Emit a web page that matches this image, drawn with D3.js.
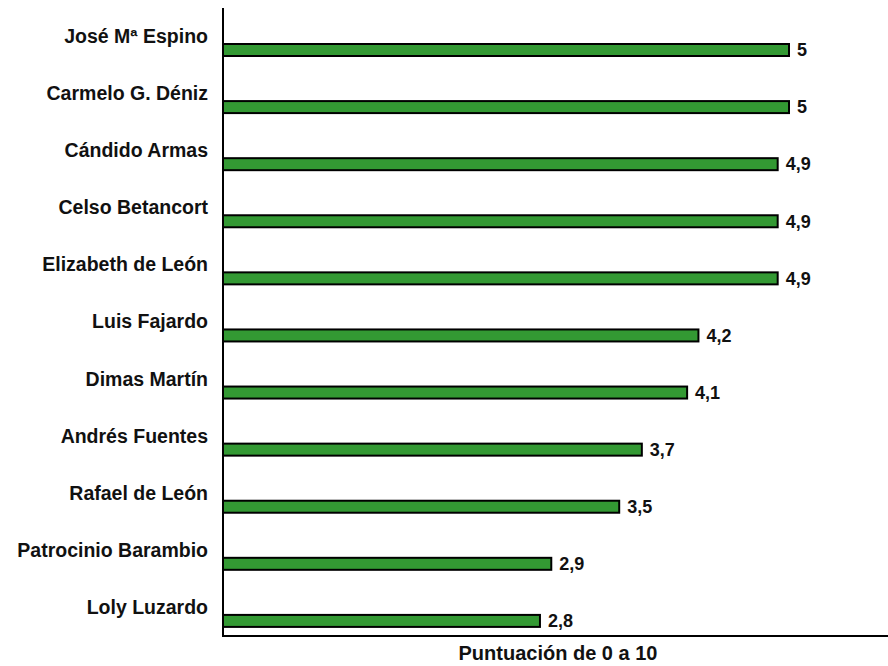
<!DOCTYPE html>
<html>
<head>
<meta charset="utf-8">
<script src="https://cdn.jsdelivr.net/npm/d3@7"></script>
<style>
  body { margin: 0; background: #fff; }
  text { font-family: "Liberation Sans", Arial, sans-serif; font-weight: bold; fill: #111; }
</style>
</head>
<body>
<div id="chart"></div>
<script>
// --- datos ---
var nombres = ["José Mª Espino", "Carmelo G. Déniz", "Cándido Armas", "Celso Betancort",
  "Elizabeth de León", "Luis Fajardo", "Dimas Martín", "Andrés Fuentes",
  "Rafael de León", "Patrocinio Barambio", "Loly Luzardo"];
var notas = [5, 5, 4.9, 4.9, 4.9, 4.2, 4.1, 3.7, 3.5, 2.9, 2.8];
var tituloEje = "Puntuación de 0 a 10";

var width = 888, height = 666;
var x0 = 223, yTop = 8, yBottom = 636;

var svg = d3.select('#chart').append('svg')
  .attr('width', width)
  .attr('height', height);

var x = d3.scaleLinear().domain([0, 5]).range([x0, 789]);
var y = d3.scaleBand().domain(nombres).range([yTop, yBottom]).padding(0);

var barOff = 36, barH = 12;

// barras
svg.selectAll('rect.bar')
  .data(nombres)
  .enter().append('rect')
  .attr('class', 'bar')
  .attr('x', x(0))
  .attr('y', function(d) { return y(d) + barOff; })
  .attr('width', function(d, i) { return x(notas[i]) - x(0); })
  .attr('height', barH)
  .attr('fill', '#339933')
  .attr('stroke', '#000')
  .attr('stroke-width', 2);

// nombres
svg.selectAll('text.nombre')
  .data(nombres)
  .enter().append('text')
  .attr('class', 'nombre')
  .attr('x', 208)
  .attr('y', function(d) { return y(d) + barOff - 1; })
  .attr('text-anchor', 'end')
  .style('font-size', '19.5px')
  .text(function(d) { return d; });

// valores
svg.selectAll('text.valor')
  .data(nombres)
  .enter().append('text')
  .attr('class', 'valor')
  .attr('x', function(d, i) { return x(notas[i]) + 8; })
  .attr('y', function(d) { return y(d) + barOff + barH / 2; })
  .attr('dy', '0.35em')
  .style('font-size', '18px')
  .text(function(d, i) { return String(notas[i]).replace('.', ','); });

// ejes
svg.append('line')
  .attr('x1', x0).attr('x2', x0)
  .attr('y1', yTop).attr('y2', yBottom)
  .attr('stroke', '#000').attr('stroke-width', 2);
svg.append('line')
  .attr('x1', x0 - 1).attr('x2', width)
  .attr('y1', yBottom).attr('y2', yBottom)
  .attr('stroke', '#000').attr('stroke-width', 2);

svg.append('text')
  .attr('x', 558)
  .attr('y', 660)
  .attr('text-anchor', 'middle')
  .style('font-size', '20px')
  .text(tituloEje);
</script>
</body>
</html>
